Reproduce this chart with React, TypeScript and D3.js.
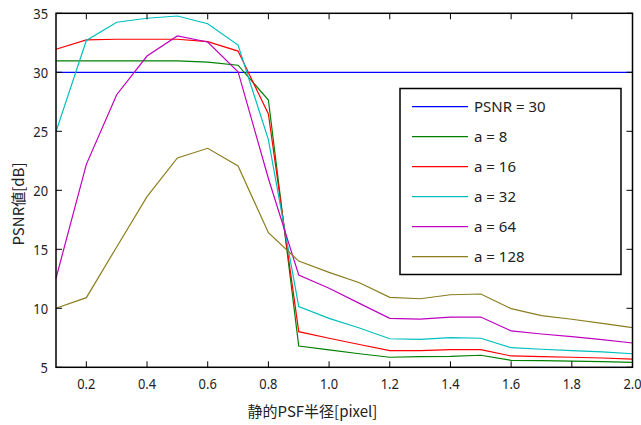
import { useRef, useEffect } from 'react';
import * as d3 from 'd3';

const radius = [0.1, 0.2, 0.3, 0.4, 0.5, 0.6, 0.7, 0.8, 0.9, 1.0, 1.1, 1.2, 1.3, 1.4, 1.5, 1.6, 1.7, 1.8, 1.9, 2.0];

const a8 = [30.96, 30.96, 30.96, 30.96, 30.96, 30.87, 30.6, 27.65, 6.8, 6.47, 6.15, 5.85, 5.9, 5.93, 6.02, 5.59, 5.56, 5.53, 5.48, 5.42];
const a16 = [31.95, 32.74, 32.8, 32.8, 32.8, 32.6, 31.8, 26.47, 8.02, 7.46, 6.93, 6.41, 6.41, 6.49, 6.49, 5.96, 5.9, 5.85, 5.79, 5.7];
const a32 = [24.97, 32.7, 34.24, 34.58, 34.77, 34.12, 32.31, 24.3, 10.14, 9.15, 8.33, 7.42, 7.37, 7.51, 7.46, 6.66, 6.53, 6.41, 6.3, 6.15];
const a64 = [12.54, 22.2, 28.1, 31.38, 33.08, 32.57, 30.05, 21.0, 12.82, 11.7, 10.42, 9.15, 9.09, 9.26, 9.26, 8.08, 7.82, 7.6, 7.34, 7.06];
const a128 = [10.0, 10.9, 15.2, 19.46, 22.74, 23.56, 22.06, 16.41, 14.0, 13.05, 12.17, 10.93, 10.81, 11.15, 11.21, 9.97, 9.38, 9.07, 8.73, 8.36];

const threshold = 30;

const legendLabels = ['PSNR = 30', 'a = 8', 'a = 16', 'a = 32', 'a = 64', 'a = 128'];
const colors = ['#0000ff', '#008000', '#ff0000', '#00bfbf', '#bf00bf', '#8c7e1e'];

const xTicks = [0.2, 0.4, 0.6, 0.8, 1.0, 1.2, 1.4, 1.6, 1.8, 2.0];
const yTicks = [5, 10, 15, 20, 25, 30, 35];

const App = () => {
  const svgRef = useRef(null);

  useEffect(() => {
    const svg = d3.select(svgRef.current);
    svg.selectAll('*').remove();

    const width = 641;
    const height = 425;
    const left = 56, right = 632.5, top = 13.3, bottom = 367.3;
    const font = '"Noto Sans", sans-serif';

    const x = d3.scaleLinear().domain([0.1, 2.0]).range([left, right]);
    const y = d3.scaleLinear().domain([5, 35]).range([bottom, top]);

    svg.attr('width', width).attr('height', height)
      .style('position', 'absolute').style('left', 0).style('top', 0)
      .style('background', '#fff');

    const g = svg.append('g');

    // threshold line
    g.append('line')
      .attr('x1', x(0.1)).attr('x2', x(2.0))
      .attr('y1', y(threshold)).attr('y2', y(threshold))
      .attr('stroke', colors[0]).attr('stroke-width', 1.2);

    const series = [a8, a16, a32, a64, a128];
    const line = d3.line<number>()
      .x((_, i) => x(radius[i]))
      .y(d => y(d));

    series.forEach((s, i) => {
      g.append('path')
        .datum(s)
        .attr('d', line)
        .attr('fill', 'none')
        .attr('stroke', colors[i + 1])
        .attr('stroke-width', 1.2);
    });

    // axes box
    g.append('rect')
      .attr('x', left).attr('y', top)
      .attr('width', right - left).attr('height', bottom - top)
      .attr('fill', 'none').attr('stroke', '#000').attr('stroke-width', 1.5);

    const tl = 6;
    const sx = 0.86; // squeeze tick labels a bit, the original font is narrow
    xTicks.forEach(t => {
      g.append('line').attr('x1', x(t)).attr('x2', x(t))
        .attr('y1', bottom).attr('y2', bottom - tl).attr('stroke', '#000');
      g.append('line').attr('x1', x(t)).attr('x2', x(t))
        .attr('y1', top).attr('y2', top + tl).attr('stroke', '#000');
      g.append('text')
        .attr('transform', `translate(${x(t)},389) scale(${sx},1)`)
        .attr('text-anchor', 'middle')
        .attr('font-family', font).attr('font-size', 15).attr('fill', '#222')
        .text(t.toFixed(1));
    });

    yTicks.forEach(t => {
      g.append('line').attr('x1', left).attr('x2', left + tl)
        .attr('y1', y(t)).attr('y2', y(t)).attr('stroke', '#000');
      g.append('line').attr('x1', right).attr('x2', right - tl)
        .attr('y1', y(t)).attr('y2', y(t)).attr('stroke', '#000');
      g.append('text')
        .attr('transform', `translate(48,${y(t) + 5.5}) scale(${sx},1)`)
        .attr('text-anchor', 'end')
        .attr('font-family', font).attr('font-size', 15).attr('fill', '#222')
        .text(t);
    });

    g.append('text')
      .attr('x', 312.5).attr('y', 417)
      .attr('text-anchor', 'middle')
      .attr('font-family', '"Noto Sans CJK JP", "Noto Sans", sans-serif')
      .attr('font-size', 15).attr('fill', '#222')
      .text('静的PSF半径[pixel]');

    g.append('text')
      .attr('transform', 'translate(24,204) rotate(-90)')
      .attr('text-anchor', 'middle')
      .attr('font-family', '"Noto Sans CJK JP", "Noto Sans", sans-serif')
      .attr('font-size', 15).attr('fill', '#222')
      .text('PSNR値[dB]');

    // legend
    const lg = g.append('g');
    lg.append('rect')
      .attr('x', 400).attr('y', 88.5)
      .attr('width', 221).attr('height', 186)
      .attr('fill', '#fff').attr('stroke', '#000').attr('stroke-width', 1.5);

    legendLabels.forEach((label, i) => {
      const ly = 106.7 + i * 30;
      lg.append('line')
        .attr('x1', 412).attr('x2', 468)
        .attr('y1', ly).attr('y2', ly)
        .attr('stroke', colors[i]).attr('stroke-width', 1.2);
      lg.append('text')
        .attr('x', 474).attr('y', ly + 5.5)
        .attr('font-family', font).attr('font-size', 15).attr('fill', '#222')
        .text(label);
    });
  }, []);

  return <svg ref={svgRef}></svg>;
};

export default App;
